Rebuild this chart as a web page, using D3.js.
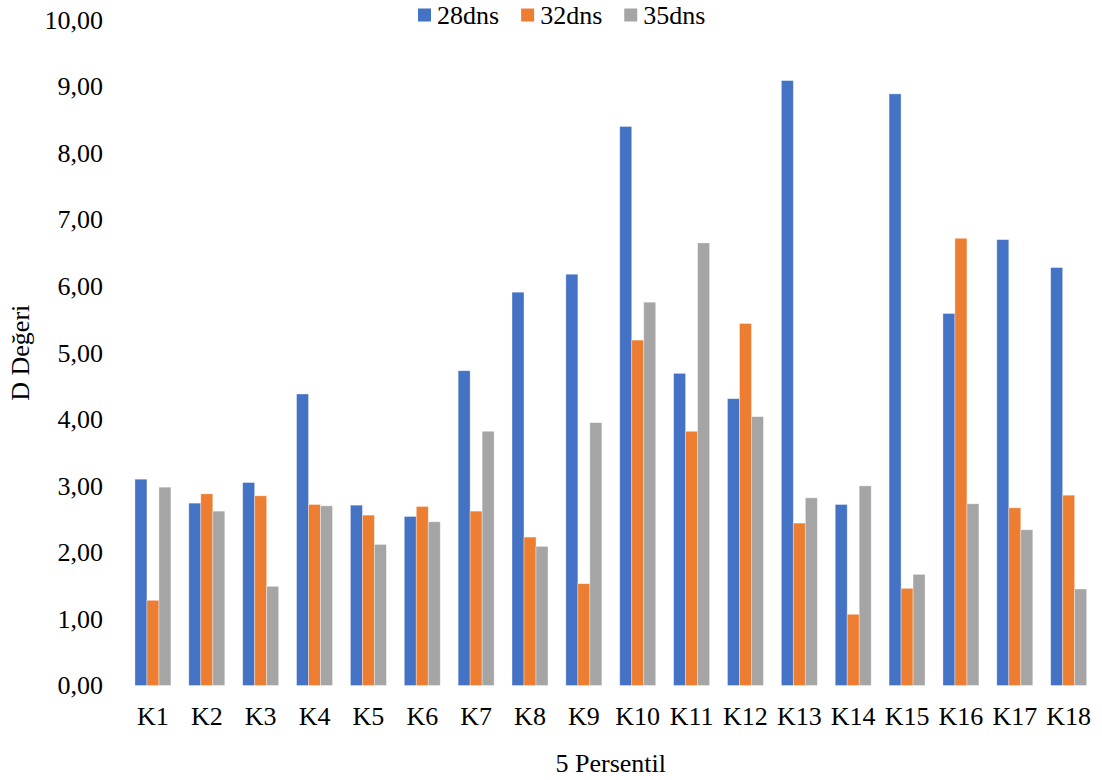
<!DOCTYPE html>
<html>
<head>
<meta charset="utf-8">
<script src="https://cdn.jsdelivr.net/npm/d3@7"></script>
<style>
  html, body { margin: 0; padding: 0; background: #fff; }
  svg { display: block; }
  text { font-family: "Liberation Serif", "Times New Roman", serif; fill: #000; }
</style>
</head>
<body>
<svg id="chart" width="1102" height="780"></svg>
<script>
const categories = ["K1","K2","K3","K4","K5","K6","K7","K8","K9","K10","K11","K12","K13","K14","K15","K16","K17","K18"];
const seriesNames = ["28dns", "32dns", "35dns"];
const s28 = [3.10, 2.74, 3.05, 4.38, 2.71, 2.54, 4.73, 5.91, 6.18, 8.40, 4.69, 4.31, 9.09, 2.72, 8.89, 5.59, 6.70, 6.28];
const s32 = [1.28, 2.88, 2.85, 2.72, 2.56, 2.69, 2.62, 2.23, 1.53, 5.19, 3.82, 5.44, 2.44, 1.07, 1.46, 6.72, 2.67, 2.86];
const s35 = [2.98, 2.62, 1.49, 2.70, 2.12, 2.46, 3.82, 2.09, 3.95, 5.76, 6.65, 4.04, 2.82, 3.00, 1.67, 2.73, 2.34, 1.45];
const yTicks = [0,1,2,3,4,5,6,7,8,9,10];
const colors = ["#4472C4", "#ED7D31", "#A5A5A5"];
const yTitle = "D Değeri";
const xTitle = "5 Persentil";

const seriesValues = [s28, s32, s35];
const rows = categories.map((c, i) => ({cat: c, vals: seriesValues.map(s => s[i])}));

const svg = d3.select("#chart");
const plotLeft = 126, plotRight = 1095.6, plotTop = 20, plotBottom = 685.5;
const FS = "26px";

const x = d3.scaleBand().domain(categories).range([plotLeft, plotRight]).paddingInner(0.332).paddingOuter(0.166);
const xs = d3.scaleBand().domain(seriesNames).range([0, x.bandwidth()]);
const y = d3.scaleLinear().domain([0, 10]).range([plotBottom, plotTop]);

const fmt = v => d3.format(".2f")(v).replace(".", ",");

// Bars
const g = svg.append("g");
const groups = g.selectAll("g.grp").data(rows).join("g")
  .attr("class", "grp")
  .attr("transform", d => `translate(${x(d.cat)},0)`);
groups.selectAll("rect").data(d => d.vals.map((v, k) => ({v, k}))).join("rect")
  .attr("x", d => xs(seriesNames[d.k]))
  .attr("y", d => y(d.v))
  .attr("width", xs.bandwidth())
  .attr("height", d => y(0) - y(d.v))
  .attr("fill", d => colors[d.k])
  .attr("stroke", "rgba(255,255,255,0.45)")
  .attr("stroke-width", 0.8);

// Y axis
const yAxis = svg.append("g").attr("transform", `translate(${plotLeft},0)`)
  .call(d3.axisLeft(y).tickValues(yTicks).tickFormat(fmt).tickSize(0).tickPadding(23));
yAxis.select(".domain").remove();
yAxis.selectAll("text").style("font-size", FS).style("font-family", "'Liberation Serif', serif");

// X axis
const xAxis = svg.append("g").attr("transform", `translate(0,${plotBottom})`)
  .call(d3.axisBottom(x).tickSize(0).tickPadding(21));
xAxis.select(".domain").remove();
xAxis.selectAll("text").style("font-size", FS).style("font-family", "'Liberation Serif', serif");

// Axis titles
svg.append("text")
  .attr("transform", `translate(29,${(plotTop + plotBottom) / 2}) rotate(-90)`)
  .attr("text-anchor", "middle")
  .style("font-size", FS)
  .text(yTitle);

svg.append("text")
  .attr("x", (plotLeft + plotRight) / 2)
  .attr("y", 772)
  .attr("text-anchor", "middle")
  .style("font-size", FS)
  .text(xTitle);

// Legend
const legend = svg.append("g");
let lx = 418;
seriesNames.forEach((name, k) => {
  legend.append("rect")
    .attr("x", lx).attr("y", 8.5).attr("width", 13).attr("height", 13)
    .attr("fill", colors[k]);
  const t = legend.append("text")
    .attr("x", lx + 19).attr("y", 23.5)
    .style("font-size", FS)
    .text(name);
  lx = lx + 19 + t.node().getComputedTextLength() + 22;
});
</script>
</body>
</html>
